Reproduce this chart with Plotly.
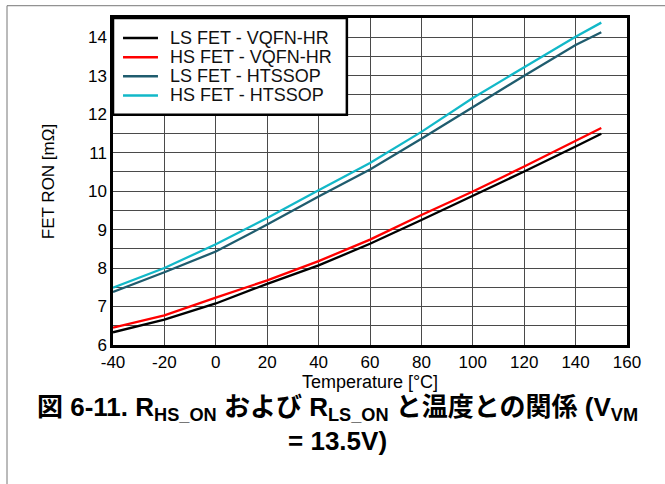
import plotly.graph_objects as go

# Junction temperature sweep [°C]
temperature = [-40, -20, 0, 20, 40, 60, 80, 100, 120, 140, 150]

# FET on-resistance [mΩ]
ls_vqfn = [6.33, 6.66, 7.08, 7.59, 8.07, 8.63, 9.25, 9.87, 10.51, 11.16, 11.49]
hs_vqfn = [6.45, 6.77, 7.23, 7.68, 8.18, 8.74, 9.38, 9.99, 10.64, 11.30, 11.64]
ls_htssop = [7.38, 7.89, 8.43, 9.13, 9.86, 10.56, 11.36, 12.19, 13.00, 13.80, 14.13]
hs_htssop = [7.49, 8.00, 8.62, 9.30, 10.02, 10.73, 11.54, 12.42, 13.22, 14.01, 14.38]

series_names = ["LS FET - VQFN-HR", "HS FET - VQFN-HR", "LS FET - HTSSOP", "HS FET - HTSSOP"]
series_values = [ls_vqfn, hs_vqfn, ls_htssop, hs_htssop]
series_colors = ["#000000", "#ff0000", "#1f5c6e", "#12b8c8"]

x_ticks = list(range(-40, 161, 20))
y_ticks = list(range(6, 15))

font_family = "Liberation Sans, Arial, Noto Sans CJK JP, sans-serif"

fig = go.Figure()
for name, vals, col in zip(series_names, series_values, series_colors):
    fig.add_trace(go.Scatter(
        x=temperature, y=vals, name=name, mode="lines",
        line=dict(color=col, width=2.3), showlegend=False,
    ))

axis_common = dict(
    showline=True, linecolor="black", linewidth=2.5, mirror=True,
    showgrid=True, gridcolor="#4a4a4a", gridwidth=1,
    ticks="", zeroline=False,
    tickfont=dict(size=17, color="black", family=font_family),
)

fig.update_xaxes(
    range=[-40, 160], tickvals=x_ticks, ticktext=[str(v) for v in x_ticks],
    title=dict(text="Temperature [°C]", font=dict(size=18, color="black", family=font_family), standoff=2),
    **axis_common,
)
fig.update_yaxes(
    range=[6, 14.5], tickvals=[v * 0.5 for v in range(12, 30)],
    ticktext=[str(int(v * 0.5)) if (v % 2 == 0) else "" for v in range(12, 30)],
    title=dict(text="FET RON [mΩ]", font=dict(size=17, color="black", family=font_family), standoff=29),
    **axis_common,
)

# Legend drawn inside the plot's top-left corner: framed box, line keys, labels
legend_left, legend_right = 0.0, 0.455
legend_top, legend_bottom = 1.0, 0.7045
row_y = [0.9388, 0.8800, 0.8215, 0.7630]
key_x0, key_x1, label_x = 0.0195, 0.0875, 0.107

shapes = [
    dict(type="rect", xref="paper", yref="paper",
         x0=-0.2062, x1=1.3, y0=-0.6, y1=1.0376,
         line=dict(color="#777777", width=1), layer="below"),
    dict(type="rect", xref="paper", yref="paper",
         x0=legend_left, x1=legend_right, y0=legend_bottom, y1=legend_top,
         line=dict(color="black", width=2.5), fillcolor="white", layer="above"),
]
annotations = []
for name, col, yy in zip(series_names, series_colors, row_y):
    shapes.append(dict(type="line", xref="paper", yref="paper",
                       x0=key_x0, x1=key_x1, y0=yy, y1=yy,
                       line=dict(color=col, width=2.5), layer="above"))
    annotations.append(dict(text=name, xref="paper", yref="paper",
                            x=label_x, y=yy, xanchor="left", yanchor="middle",
                            showarrow=False,
                            font=dict(size=18, color="#111111", family=font_family)))

title_text = ("<b>図 6-11. R<sub>HS_ON</sub> および R<sub>LS_ON</sub> と温度との関係 (V<sub>VM</sub>"
              "<br>= 13.5V)</b>")
annotations.append(dict(
    text=title_text, xref="paper", yref="paper",
    x=0.437, y=-0.137, xanchor="center", yanchor="top",
    showarrow=False, align="center",
    font=dict(size=26, color="black", family=font_family),
))

fig.update_layout(
    width=665, height=484,
    margin=dict(l=113, r=38, t=18, b=139, autoexpand=False),
    paper_bgcolor="white", plot_bgcolor="white",
    font=dict(family=font_family, color="black"),
    showlegend=False,
    annotations=annotations,
    shapes=shapes,
)

fig.write_html("out.html")
